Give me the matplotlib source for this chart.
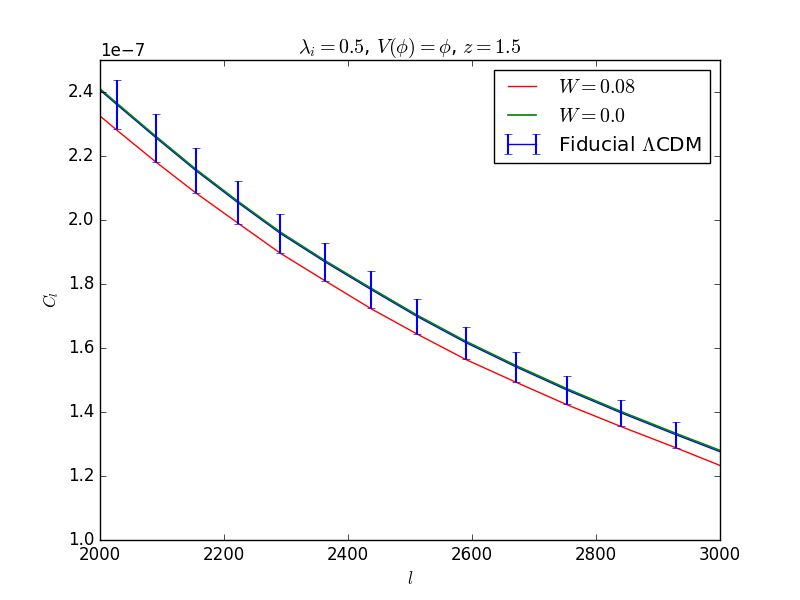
from matplotlib import pyplot as plt
import numpy as np

plt.style.use('classic')

# multipoles: curve samples (ends + binned centres)
ell = [2000, 2027, 2091, 2155, 2222, 2291, 2363, 2437, 2512, 2590, 2671, 2754, 2841, 2929, 3000]

# C_l in units of 1e-7
cl_w008 = [2.325, 2.281, 2.180, 2.084, 1.991, 1.896, 1.810, 1.723, 1.643, 1.564, 1.493, 1.422, 1.354, 1.288, 1.233]
cl_w0 = [2.410, 2.365, 2.260, 2.158, 2.059, 1.962, 1.873, 1.787, 1.702, 1.621, 1.545, 1.472, 1.401, 1.333, 1.280]
cl_fid = [2.406, 2.361, 2.256, 2.154, 2.055, 1.958, 1.869, 1.783, 1.698, 1.617, 1.541, 1.468, 1.397, 1.329, 1.276]
cl_err = [0.0, 0.078, 0.074, 0.070, 0.066, 0.062, 0.059, 0.057, 0.054, 0.050, 0.048, 0.044, 0.042, 0.040, 0.0]

scale = 1e-7
ell = np.array(ell)

fig = plt.figure(figsize=(8, 6), dpi=100, facecolor='white')
ax = fig.add_subplot(111)

ax.errorbar(ell, np.array(cl_fid) * scale, yerr=np.array(cl_err) * scale,
            fmt='-', color='b', ecolor='b', elinewidth=1.5, capsize=3,
            errorevery=slice(1, -1), barsabove=True, zorder=2.5,
            label=r'Fiducial $\Lambda$CDM')
ax.plot(ell, np.array(cl_w008) * scale, 'r-', zorder=2, label=r'$W=0.08$')
ax.plot(ell, np.array(cl_w0) * scale, 'g-', lw=1.2, zorder=2.45, label=r'$W=0.0$')

ax.set_xlim(2000, 3000)
ax.set_ylim(1.0e-7, 2.5e-7)
ax.set_xlabel(r'$l$')
ax.set_ylabel(r'$C_l$')
ax.set_title(r'$\lambda_i=0.5$, $V(\phi)=\phi$, $z=1.5$')

h, lab = ax.get_legend_handles_labels()
order = [lab.index(r'$W=0.08$'), lab.index(r'$W=0.0$'), lab.index(r'Fiducial $\Lambda$CDM')]
ax.legend([h[i] for i in order], [lab[i] for i in order], loc='upper right')

plt.savefig('out.png', dpi=100, facecolor='white')
